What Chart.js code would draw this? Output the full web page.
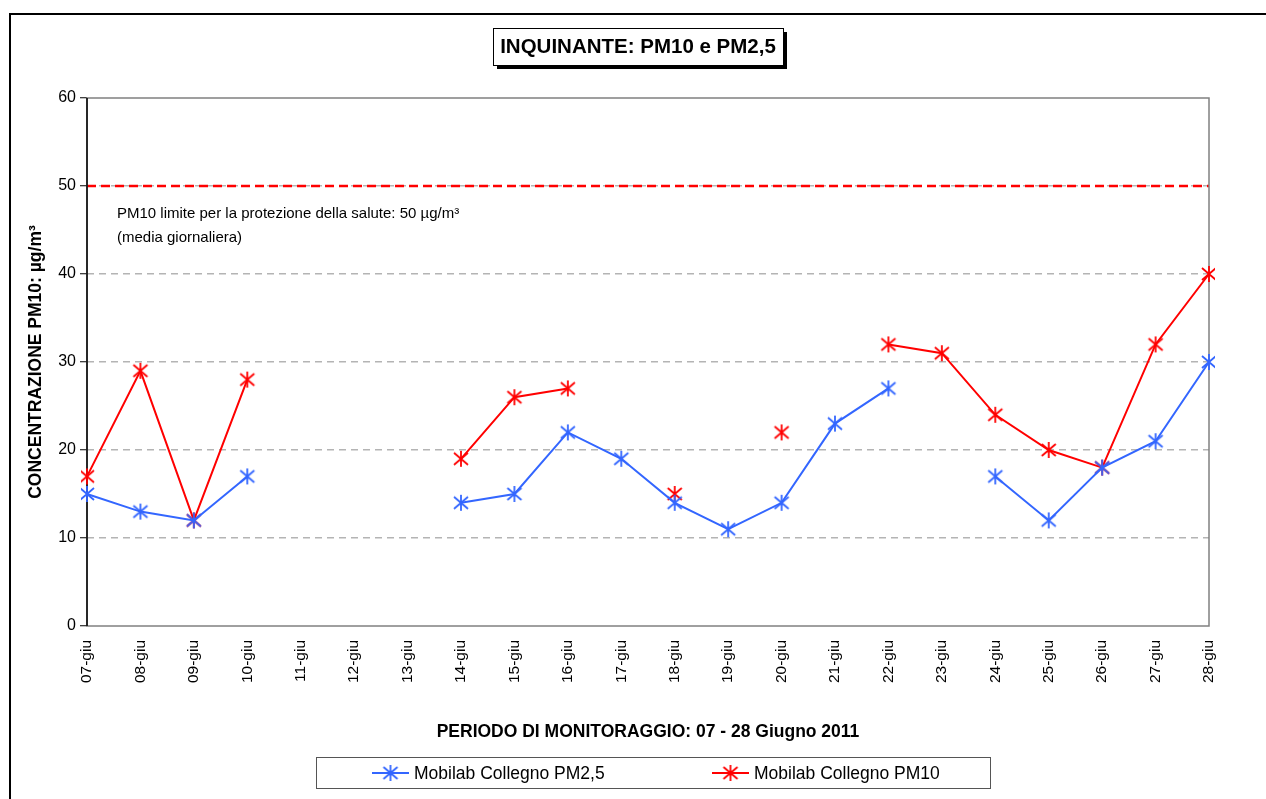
<!DOCTYPE html>
<html>
<head>
<meta charset="utf-8">
<script src="https://cdn.jsdelivr.net/npm/chart.js@4.4.0/dist/chart.umd.min.js"></script>
<style>
  body { margin: 0; background: #fff; overflow: hidden; }
  #wrap { position: relative; width: 1266px; height: 799px; }
  #frame { position: absolute; left: 9px; top: 13px; width: 1300px; height: 900px; border: 2px solid #000; box-sizing: border-box; pointer-events: none; }
  canvas { position: absolute; left: 0; top: 0; }
</style>
</head>
<body>
<div id="wrap">
  <div id="frame"></div>
  <canvas id="chart" width="1266" height="799"></canvas>
</div>
<script>
const days = ["07-giu", "08-giu", "09-giu", "10-giu", "11-giu", "12-giu", "13-giu", "14-giu", "15-giu", "16-giu", "17-giu",
              "18-giu", "19-giu", "20-giu", "21-giu", "22-giu", "23-giu", "24-giu", "25-giu", "26-giu", "27-giu", "28-giu"];
const pm25 = [15, 13, 12, 17, null, null, null, 14, 15, 22, 19, 14, 11, 14, 23, 27, null, 17, 12, 18, 21, 30];
const pm10 = [17, 29, 12, 28, null, null, null, 19, 26, 27, null, 15, null, 22, null, 32, 31, 24, 20, 18, 32, 40];
const limitPM10 = 50;
const yTicks = [0, 10, 20, 30, 40, 50, 60];

const FONT = "'Liberation Sans', Arial, sans-serif";
const BLUE = "#3366ff";
const RED = "#ff0000";

function starMarker(color) {
    const c = document.createElement("canvas");
    c.width = 20; c.height = 20;
    const g = c.getContext("2d");
    g.strokeStyle = color;
    g.lineWidth = 1.8;
    g.beginPath();
    g.moveTo(3, 4); g.lineTo(17, 16);
    g.moveTo(17, 4); g.lineTo(3, 16);
    g.moveTo(10, 2); g.lineTo(10, 18);
    g.stroke();
    return c;
}

const markBlue = starMarker(BLUE);
const markRed = starMarker(RED);

const context = document.getElementById("chart").getContext("2d");

const decor = {
    id: "decor",
    beforeDatasetsDraw(chart) {
        const a = chart.chartArea;
        const y = chart.scales.y.getPixelForValue(limitPM10);
        const ctx = chart.ctx;
        ctx.save();
        ctx.strokeStyle = RED;
        ctx.lineWidth = 2.5;
        ctx.setLineDash([9, 5]);
        ctx.beginPath();
        ctx.moveTo(a.left, y);
        ctx.lineTo(a.right, y);
        ctx.stroke();
        ctx.restore();

        // plot frame
        ctx.save();
        ctx.strokeStyle = "#808080";
        ctx.lineWidth = 1.5;
        ctx.strokeRect(a.left, a.top, a.right - a.left, a.bottom - a.top);
        ctx.strokeStyle = "#000";
        ctx.beginPath();
        ctx.moveTo(a.left, a.top);
        ctx.lineTo(a.left, a.bottom);
        ctx.stroke();
        ctx.restore();
    },
    afterDraw(chart) {
        const ctx = chart.ctx;
        const a = chart.chartArea;
        ctx.save();

        // title box with shadow
        const tx = 493, ty = 28, tw = 290, th = 37;
        ctx.fillStyle = "#000";
        ctx.fillRect(tx + 4, ty + 4, tw, th);
        ctx.fillStyle = "#fff";
        ctx.fillRect(tx, ty, tw, th);
        ctx.strokeStyle = "#000";
        ctx.lineWidth = 1;
        ctx.strokeRect(tx + 0.5, ty + 0.5, tw, th);
        ctx.fillStyle = "#000";
        ctx.font = "bold 20.5px " + FONT;
        ctx.textAlign = "center";
        ctx.textBaseline = "middle";
        ctx.fillText("INQUINANTE: PM10 e PM2,5", tx + tw / 2, ty + th / 2 + 1);

        // annotation
        ctx.font = "15px " + FONT;
        ctx.textAlign = "left";
        ctx.textBaseline = "alphabetic";
        ctx.fillText("PM10 limite per la protezione della salute: 50 µg/m³", 117, 218);
        ctx.fillText("(media giornaliera)", 117, 242);

        // axis titles
        ctx.font = "bold 17.5px " + FONT;
        ctx.textAlign = "center";
        ctx.textBaseline = "middle";
        ctx.fillText("PERIODO DI MONITORAGGIO: 07 - 28 Giugno 2011", (a.left + a.right) / 2, 732);
        ctx.save();
        ctx.translate(36, (a.top + a.bottom) / 2);
        ctx.rotate(-Math.PI / 2);
        ctx.fillText("CONCENTRAZIONE PM10: µg/m³", 0, 0);
        ctx.restore();

        // legend
        const lx = 316, ly = 757, lw = 674, lh = 31;
        ctx.strokeStyle = "#555";
        ctx.lineWidth = 1;
        ctx.strokeRect(lx + 0.5, ly + 0.5, lw, lh);
        const items = [
            { x: 372, ds: chart.data.datasets[0], mark: markBlue },
            { x: 712, ds: chart.data.datasets[1], mark: markRed }
        ];
        const cy = ly + lh / 2 + 0.5;
        ctx.font = "17.5px " + FONT;
        ctx.textAlign = "left";
        items.forEach(it => {
            ctx.strokeStyle = it.ds.borderColor;
            ctx.lineWidth = 2;
            ctx.beginPath();
            ctx.moveTo(it.x, cy);
            ctx.lineTo(it.x + 37, cy);
            ctx.stroke();
            ctx.drawImage(it.mark, it.x + 18.5 - 10, cy - 10);
            ctx.fillStyle = "#000";
            ctx.fillText(it.ds.label, it.x + 42, cy + 1);
        });
        ctx.restore();
    }
};

const chart = new Chart(context, {
    type: "line",
    data: {
        labels: days,
        datasets: [{
            label: "Mobilab Collegno PM2,5",
            data: pm25,
            borderColor: BLUE,
            backgroundColor: BLUE,
            borderWidth: 2,
            pointStyle: markBlue,
            spanGaps: false,
            tension: 0
        }, {
            label: "Mobilab Collegno PM10",
            data: pm10,
            borderColor: RED,
            backgroundColor: RED,
            borderWidth: 2,
            pointStyle: markRed,
            spanGaps: false,
            tension: 0
        }]
    },
    options: {
        responsive: false,
        animation: false,
        layout: { padding: { top: 98, right: 57, left: 0, bottom: 0 } },
        plugins: {
            legend: { display: false },
            tooltip: { enabled: false }
        },
        scales: {
            x: {
                offset: false,
                grid: { display: false },
                border: { display: false },
                ticks: {
                    color: "#000",
                    font: { family: FONT, size: 15.5 },
                    minRotation: 90,
                    maxRotation: 90,
                    autoSkip: false,
                    padding: 6
                },
                afterFit(scale) { scale.height = 173; }
            },
            y: {
                min: 0,
                max: 60,
                afterBuildTicks(scale) { scale.ticks = yTicks.map(v => ({ value: v })); },
                grid: {
                    color: c => (c.tick && (c.tick.value === 0 || c.tick.value === 60)) ? "rgba(0,0,0,0)" : "#b4b4b4",
                    lineWidth: 1.5,
                    tickLength: 7,
                    tickColor: "#000",
                    tickWidth: 1,
                    tickBorderDash: []
                },
                border: { display: false, dash: [7, 5] },
                ticks: {
                    color: "#000",
                    font: { family: FONT, size: 16 },
                    padding: 4
                },
                afterFit(scale) { scale.width = 87; }
            }
        }
    },
    plugins: [decor]
});
</script>
</body>
</html>
